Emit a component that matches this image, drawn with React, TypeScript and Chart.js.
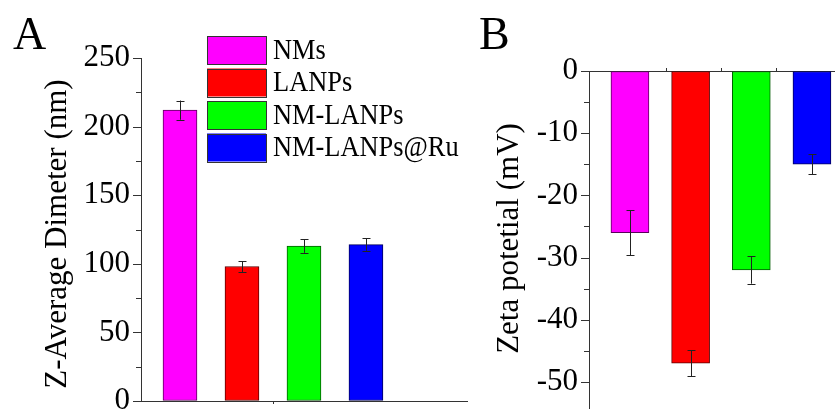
import React, { useEffect, useRef } from 'react';
import { Chart, registerables } from 'chart.js';

Chart.register(...registerables);

const FONT = "'Liberation Serif', 'Times New Roman', serif";

// ---- data ----
const categories = ['NMs', 'LANPs', 'NM-LANPs', 'NM-LANPs@Ru'];
const barColors = ['#ff00ff', '#ff0000', '#00ff00', '#0000ff'];
const barBorders = ['#5a005a', '#5a0000', '#005a00', '#00005a'];
const positions = [1, 2, 3, 4];

const diameter = [212, 98, 113, 114];
const diameterErr = [7, 4, 5, 4.5];
const diameterTicks = [0, 25, 50, 75, 100, 125, 150, 175, 200, 225, 250];
const diameterMajor = [0, 50, 100, 150, 200, 250];

const zeta = [-26, -47, -32, -15];
const zetaErr = [3.6, 2.1, 2.2, 1.6];
const zetaTicks = [0, -5, -10, -15, -20, -25, -30, -35, -40, -45, -50];
const zetaMajor = [0, -10, -20, -30, -40, -50];

const xMinorTicksA = [2.5];
const xMinorTicksB = [1.6, 2.5, 3.4];

const titleA = 'Z-Average Dimeter (nm)';
const titleB = 'Zeta potetial (mV)';

const AXIS_COLOR = '#333';

function errorBarPlugin(values: number[], errs: number[]) {
  return {
    id: 'errbars',
    afterDatasetsDraw(chart: any) {
      const ctx = chart.ctx;
      const xs = chart.scales.x;
      const ys = chart.scales.y;
      ctx.save();
      ctx.strokeStyle = '#222';
      ctx.lineWidth = 1;
      values.forEach((v, i) => {
        const x = Math.round(xs.getPixelForValue(positions[i])) + 0.5;
        const y1 = ys.getPixelForValue(v + errs[i]);
        const y2 = ys.getPixelForValue(v - errs[i]);
        ctx.beginPath();
        ctx.moveTo(x, y1);
        ctx.lineTo(x, y2);
        ctx.moveTo(x - 4, Math.round(y1) + 0.5);
        ctx.lineTo(x + 4, Math.round(y1) + 0.5);
        ctx.moveTo(x - 4, Math.round(y2) + 0.5);
        ctx.lineTo(x + 4, Math.round(y2) + 0.5);
        ctx.stroke();
      });
      ctx.restore();
    },
  };
}

function tickPlugin(yTicks: number[], yMajor: number[], xTicks: number[], xDir: number) {
  return {
    id: 'tickmarks',
    afterDraw(chart: any) {
      const ctx = chart.ctx;
      const ys = chart.scales.y;
      const xs = chart.scales.x;
      const left = chart.chartArea.left;
      ctx.save();
      ctx.strokeStyle = AXIS_COLOR;
      ctx.lineWidth = 1;
      ctx.beginPath();
      yTicks.forEach((v) => {
        const y = Math.round(ys.getPixelForValue(v)) + 0.5;
        const len = yMajor.includes(v) ? 8 : 5;
        ctx.moveTo(left - len, y);
        ctx.lineTo(left, y);
      });
      const yb = xDir > 0 ? chart.chartArea.bottom : chart.chartArea.top;
      xTicks.forEach((v) => {
        const x = Math.round(xs.getPixelForValue(v)) + 0.5;
        ctx.moveTo(x, yb);
        ctx.lineTo(x, yb + xDir * 3);
      });
      ctx.stroke();
      ctx.restore();
    },
  };
}

function textPlugin(letter: string, lx: number, ly: number, title: string, tx: number, ty: number) {
  return {
    id: 'texts',
    afterDraw(chart: any) {
      const ctx = chart.ctx;
      ctx.save();
      ctx.fillStyle = '#000';
      ctx.font = `46px ${FONT}`;
      ctx.textAlign = 'left';
      ctx.textBaseline = 'alphabetic';
      ctx.fillText(letter, lx, ly);
      ctx.font = `31px ${FONT}`;
      ctx.textAlign = 'center';
      ctx.textBaseline = 'middle';
      ctx.translate(tx, ty);
      ctx.rotate(-Math.PI / 2);
      ctx.fillText(title, 0, 0);
      ctx.restore();
    },
  };
}

const legendPlugin = {
  id: 'customLegend',
  afterDraw(chart: any) {
    const ctx = chart.ctx;
    ctx.save();
    categories.forEach((label, i) => {
      const top = 36 + i * 32.5;
      const bx = 207;
      const bw = 59;
      const bh = 28;
      ctx.fillStyle = barColors[i];
      ctx.fillRect(bx, top, bw, bh);
      ctx.strokeStyle = '#333';
      ctx.lineWidth = 1;
      ctx.strokeRect(bx + 0.5, Math.round(top) + 0.5, bw, bh);
      ctx.fillStyle = '#000';
      ctx.font = `30px ${FONT}`;
      ctx.textBaseline = 'middle';
      ctx.textAlign = 'left';
      ctx.translate(273, top + bh / 2 + 1);
      ctx.scale(0.88, 1);
      ctx.fillText(label, 0, 0);
      ctx.setTransform(1, 0, 0, 1, 0, 0);
    });
    ctx.restore();
  },
};

function yScale(min: number, max: number, ticks: number[], major: number[], width: number) {
  return {
    type: 'linear',
    position: 'left',
    min,
    max,
    afterBuildTicks: (s: any) => {
      s.ticks = ticks.map((v) => ({ value: v }));
    },
    afterFit: (s: any) => {
      s.width = width;
      s.paddingTop = 0;
      s.paddingBottom = 0;
    },
    ticks: {
      autoSkip: false,
      padding: 3,
      color: '#000',
      font: { family: FONT, size: 31 },
      callback: (v: any) => (major.includes(v) ? String(v) : ''),
    },
    grid: { display: true, drawOnChartArea: false, drawTicks: true, tickLength: 8, tickColor: 'rgba(0,0,0,0)' },
    border: { display: true, color: AXIS_COLOR, width: 1 },
    title: { display: false },
  };
}

function xScale(min: number, max: number, position: string, height: number) {
  return {
    type: 'linear',
    position,
    min,
    max,
    offset: false,
    ticks: { display: false },
    grid: { display: false, drawTicks: false, offset: false },
    border: { display: true, color: AXIS_COLOR, width: 1 },
    afterFit: (s: any) => {
      s.height = height;
      s.paddingLeft = 0;
      s.paddingRight = 0;
    },
  };
}

export default function App() {
  const refA = useRef<HTMLCanvasElement>(null);
  const refB = useRef<HTMLCanvasElement>(null);

  useEffect(() => {
    const chartA = new Chart(refA.current as HTMLCanvasElement, {
      type: 'bar',
      data: {
        datasets: [
          {
            data: positions.map((x, i) => ({ x, y: diameter[i] })) as any,
            backgroundColor: barColors,
            borderColor: barBorders,
            borderWidth: 1,
            borderSkipped: false,
            barThickness: 34,
          },
        ],
      },
      options: {
        animation: false,
        responsive: false,
        devicePixelRatio: 1,
        layout: { padding: { top: 58, left: 0, right: 3, bottom: 0 } },
        plugins: { legend: { display: false }, tooltip: { enabled: false } },
        scales: {
          x: xScale(0.371, 5.63, 'bottom', 8) as any,
          y: yScale(0, 250, diameterTicks, diameterMajor, 141) as any,
        },
      },
      plugins: [
        errorBarPlugin(diameter, diameterErr),
        tickPlugin(diameterTicks, diameterMajor, xMinorTicksA, 1),
        legendPlugin,
        textPlugin('A', 13, 49, titleA, 58, 234),
      ],
    });

    const chartB = new Chart(refB.current as HTMLCanvasElement, {
      type: 'bar',
      data: {
        datasets: [
          {
            data: positions.map((x, i) => ({ x, y: zeta[i] })) as any,
            backgroundColor: barColors,
            borderColor: barBorders,
            borderWidth: 1,
            borderSkipped: false,
            barThickness: 38,
          },
        ],
      },
      options: {
        animation: false,
        responsive: false,
        devicePixelRatio: 1,
        layout: { padding: { top: 0, left: 0, right: 0, bottom: 0 } },
        plugins: { legend: { display: false }, tooltip: { enabled: false } },
        scales: {
          x: xScale(0.325, 4.38, 'top', 71) as any,
          y: yScale(-54.35, 0, zetaTicks, zetaMajor, 119) as any,
        },
      },
      plugins: [
        errorBarPlugin(zeta, zetaErr),
        tickPlugin(zetaTicks, zetaMajor, xMinorTicksB, -1),
        textPlugin('B', 9, 49, titleB, 40, 238.5),
      ],
    });

    return () => {
      chartA.destroy();
      chartB.destroy();
    };
  }, []);

  return (
    <div
      style={{
        position: 'absolute',
        left: 0,
        top: 0,
        width: 835,
        height: 409,
        overflow: 'hidden',
        background: '#fff',
      }}
    >
      <canvas ref={refA} width={470} height={409} style={{ position: 'absolute', left: 0, top: 0 }} />
      <canvas ref={refB} width={365} height={409} style={{ position: 'absolute', left: 470, top: 0 }} />
    </div>
  );
}
